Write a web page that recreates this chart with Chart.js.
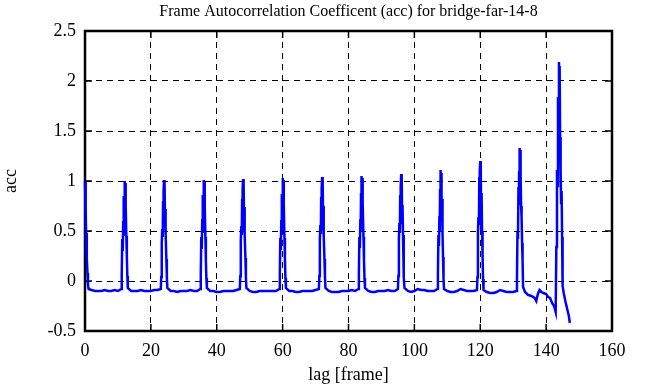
<!DOCTYPE html>
<html>
<head>
<meta charset="utf-8">
<script src="https://cdn.jsdelivr.net/npm/chart.js@4/dist/chart.umd.min.js"></script>
<style>
  body { margin: 0; background: #fff; }
  canvas { display: block; }
</style>
</head>
<body>
<canvas id="chart" width="651" height="387"></canvas>
<script>
const chartTitle = 'Frame Autocorrelation Coefficent (acc) for bridge-far-14-8';
const xLabel = 'lag [frame]';
const yLabel = 'acc';
const xTicks = [0, 20, 40, 60, 80, 100, 120, 140, 160];
const yTicks = [-0.5, 0, 0.5, 1, 1.5, 2, 2.5];

// lag positions, one line per peak + following baseline
const lags = [
  0, 0.1, 0.2, 0.3, 0.4, 0.5, 0.6, 0.75, 0.9, 1.1, 2, 3, 4, 5, 6, 7, 8, 9, 10,
  11, 11.15, 11.3, 11.45, 11.6, 11.7, 11.8, 11.9, 12, 12.1, 12.2, 12.3, 12.4, 12.55, 12.7, 12.85, 13, 14, 15, 16, 17, 18, 19, 20, 21, 22,
  23, 23.15, 23.3, 23.45, 23.6, 23.7, 23.8, 23.9, 24, 24.1, 24.2, 24.3, 24.4, 24.55, 24.7, 24.85, 25, 26, 27, 28, 29, 30, 31, 32, 33, 34,
  35, 35.15, 35.3, 35.45, 35.6, 35.7, 35.8, 35.9, 36, 36.1, 36.2, 36.3, 36.4, 36.55, 36.7, 36.85, 37, 38, 39, 40, 41, 42, 43, 44, 45, 46,
  47, 47.15, 47.3, 47.45, 47.6, 47.7, 47.8, 47.9, 48, 48.1, 48.2, 48.3, 48.4, 48.55, 48.7, 48.85, 49, 50, 51, 52, 53, 54, 55, 56, 57, 58,
  59, 59.15, 59.3, 59.45, 59.6, 59.7, 59.8, 59.9, 60, 60.1, 60.2, 60.3, 60.4, 60.55, 60.7, 60.85, 61, 62, 63, 64, 65, 66, 67, 68, 69, 70,
  71, 71.15, 71.3, 71.45, 71.6, 71.7, 71.8, 71.9, 72, 72.1, 72.2, 72.3, 72.4, 72.55, 72.7, 72.85, 73, 74, 75, 76, 77, 78, 79, 80, 81, 82,
  83, 83.15, 83.3, 83.45, 83.6, 83.7, 83.8, 83.9, 84, 84.1, 84.2, 84.3, 84.4, 84.55, 84.7, 84.85, 85, 86, 87, 88, 89, 90, 91, 92, 93, 94,
  95, 95.15, 95.3, 95.45, 95.6, 95.7, 95.8, 95.9, 96, 96.1, 96.2, 96.3, 96.4, 96.55, 96.7, 96.85, 97, 98, 99, 100, 101, 102, 103, 104, 105, 106,
  107, 107.15, 107.3, 107.45, 107.6, 107.7, 107.8, 107.9, 108, 108.1, 108.2, 108.3, 108.4, 108.55, 108.7, 108.85, 109, 110, 111, 112, 113, 114, 115, 116, 117, 118,
  119, 119.15, 119.3, 119.45, 119.6, 119.7, 119.8, 119.9, 120, 120.1, 120.2, 120.3, 120.4, 120.55, 120.7, 120.85, 121, 122, 123, 124, 125, 126, 127, 128, 129, 130,
  131, 131.15, 131.3, 131.45, 131.6, 131.7, 131.8, 131.9, 132, 132.1, 132.2, 132.3, 132.4, 132.55, 132.7, 132.85, 133,
  133.6, 134.5, 135.5, 136.5, 137, 137.5, 138, 138.6, 139.2, 140, 140.6, 141.2, 141.8, 142.4, 142.9,
  143.1, 143.3, 143.45, 143.6, 143.75, 143.9, 144, 144.1, 144.25, 144.4, 144.55, 144.7, 144.85, 145, 145.4, 145.9, 146.4, 146.9, 147.2
];

const acc = [
  1.00, 0.97, 0.62, 0.74, 0.35, 0.48, 0.22, 0.08, -0.04, -0.08, -0.09, -0.10, -0.10, -0.10, -0.09, -0.10, -0.10, -0.09, -0.10,
  -0.08, 0.05, 0.42, 0.30, 0.60, 0.45, 0.85, 0.65, 1.00, 0.85, 0.98, 0.55, 0.75, 0.45, 0.25, 0.05, -0.07, -0.10, -0.10, -0.10, -0.09, -0.10, -0.10, -0.10, -0.09, -0.09,
  -0.08, 0.04, 0.38, 0.52, 0.44, 0.80, 0.62, 0.90, 1.01, 0.82, 0.99, 0.58, 0.72, 0.48, 0.22, 0.04, -0.07, -0.10, -0.10, -0.11, -0.10, -0.10, -0.10, -0.09, -0.10, -0.10,
  -0.08, 0.06, 0.44, 0.32, 0.62, 0.48, 0.86, 0.66, 1.01, 0.86, 1.00, 0.57, 0.76, 0.44, 0.20, 0.03, -0.07, -0.10, -0.10, -0.11, -0.11, -0.10, -0.10, -0.10, -0.10, -0.09,
  -0.08, 0.05, 0.40, 0.55, 0.46, 0.82, 0.63, 0.92, 1.02, 0.84, 1.00, 0.56, 0.74, 0.46, 0.23, 0.04, -0.07, -0.10, -0.11, -0.11, -0.10, -0.10, -0.10, -0.10, -0.10, -0.10,
  -0.08, 0.06, 0.43, 0.31, 0.61, 0.47, 0.87, 0.64, 1.03, 0.87, 1.01, 0.58, 0.77, 0.43, 0.21, 0.03, -0.07, -0.10, -0.10, -0.11, -0.11, -0.10, -0.10, -0.10, -0.10, -0.09,
  -0.08, 0.05, 0.41, 0.56, 0.47, 0.84, 0.64, 0.93, 1.04, 0.85, 1.02, 0.57, 0.75, 0.45, 0.22, 0.04, -0.07, -0.10, -0.11, -0.11, -0.11, -0.10, -0.10, -0.10, -0.09, -0.10,
  -0.08, 0.06, 0.44, 0.33, 0.62, 0.49, 0.88, 0.66, 1.05, 0.88, 1.03, 0.59, 0.78, 0.44, 0.21, 0.03, -0.07, -0.10, -0.11, -0.11, -0.10, -0.10, -0.10, -0.09, -0.10, -0.10,
  -0.08, 0.05, 0.42, 0.58, 0.48, 0.86, 0.66, 0.95, 1.07, 0.86, 1.04, 0.58, 0.76, 0.46, 0.23, 0.04, -0.07, -0.10, -0.11, -0.10, -0.08, -0.09, -0.09, -0.10, -0.10, -0.10,
  -0.08, 0.07, 0.46, 0.35, 0.65, 0.50, 0.92, 0.70, 1.11, 0.90, 1.08, 0.62, 0.82, 0.47, 0.24, 0.03, -0.08, -0.10, -0.11, -0.11, -0.10, -0.08, -0.09, -0.10, -0.10, -0.10,
  -0.09, 0.04, 0.48, 0.64, 0.56, 1.04, 0.82, 1.10, 1.20, 0.95, 1.15, 0.51, 0.88, 0.50, 0.26, 0.02, -0.09, -0.11, -0.12, -0.12, -0.11, -0.09, -0.10, -0.11, -0.11, -0.11,
  -0.10, 0.03, 0.49, 0.42, 0.94, 0.76, 1.10, 0.98, 1.33, 1.20, 1.31, 1.06, 0.75, 0.64, 0.38, 0.21, -0.06,
  -0.11, -0.14, -0.15, -0.17, -0.20, -0.13, -0.09, -0.11, -0.12, -0.13, -0.16, -0.17, -0.22, -0.25, -0.31,
  0.34, 1.11, 0.95, 1.84, 1.60, 2.19, 1.90, 2.15, 1.44, 1.10, 0.78, 0.90, 0.44, -0.05, -0.13, -0.21, -0.28, -0.35, -0.42
];

const points = lags.map((x, i) => ({ x: x, y: acc[i] }));
const serif = 'Liberation Serif, Times New Roman, serif';

// solid frame + gnuplot style inner tick marks
const frame = {
  id: 'frame',
  beforeDatasetsDraw(chart) {
    const { ctx, chartArea: a, scales } = chart;
    const tl = 7;
    ctx.save();
    ctx.strokeStyle = '#000';
    ctx.lineWidth = 1.5;
    ctx.beginPath();
    xTicks.forEach(v => {
      const px = scales.x.getPixelForValue(v);
      ctx.moveTo(px, a.bottom); ctx.lineTo(px, a.bottom - tl);
      ctx.moveTo(px, a.top); ctx.lineTo(px, a.top + tl);
    });
    yTicks.forEach(v => {
      const py = scales.y.getPixelForValue(v);
      ctx.moveTo(a.left, py); ctx.lineTo(a.left + tl, py);
      ctx.moveTo(a.right, py); ctx.lineTo(a.right - tl, py);
    });
    ctx.stroke();
    ctx.lineWidth = 2.5;
    ctx.strokeRect(a.left, a.top, a.right - a.left, a.bottom - a.top);
    ctx.restore();
  }
};

new Chart(document.getElementById('chart'), {
  type: 'line',
  data: {
    datasets: [{
      data: points,
      borderColor: '#0000ff',
      borderWidth: 2.5,
      pointRadius: 0,
      tension: 0,
      fill: false,
      clip: 4
    }]
  },
  options: {
    responsive: false,
    animation: false,
    layout: { padding: { left: 0, right: 39, top: 0, bottom: 0 } },
    plugins: {
      legend: { display: false },
      tooltip: { enabled: false },
      title: {
        display: true,
        fullSize: false,
        text: chartTitle,
        color: '#000',
        font: { family: serif, size: 16, weight: 'normal' },
        padding: { top: 2, bottom: 9.8 }
      }
    },
    scales: {
      x: {
        type: 'linear',
        min: 0,
        max: 160,
        afterBuildTicks: s => { s.ticks = xTicks.map(v => ({ value: v })); },
        ticks: { color: '#000', padding: 9, maxRotation: 0, font: { family: serif, size: 18 }, callback: v => String(v) },
        grid: { color: '#000', lineWidth: 1, drawTicks: false },
        border: { display: false, dash: [6, 5] },
        title: { display: true, text: xLabel, color: '#000', padding: { top: 0, bottom: 1 }, font: { family: serif, size: 18 } },
        afterFit: s => { s.height = 56; }
      },
      y: {
        min: -0.5,
        max: 2.5,
        afterBuildTicks: s => { s.ticks = yTicks.map(v => ({ value: v })); },
        ticks: { color: '#000', padding: 9, font: { family: serif, size: 18 }, callback: v => String(v) },
        grid: { color: '#000', lineWidth: 1, drawTicks: false },
        border: { display: false, dash: [6, 5] },
        title: { display: true, text: yLabel, color: '#000', padding: { top: 0, bottom: 4 }, font: { family: serif, size: 18 } },
        afterFit: s => { s.width = 85; }
      }
    }
  },
  plugins: [frame]
});
</script>
</body>
</html>
